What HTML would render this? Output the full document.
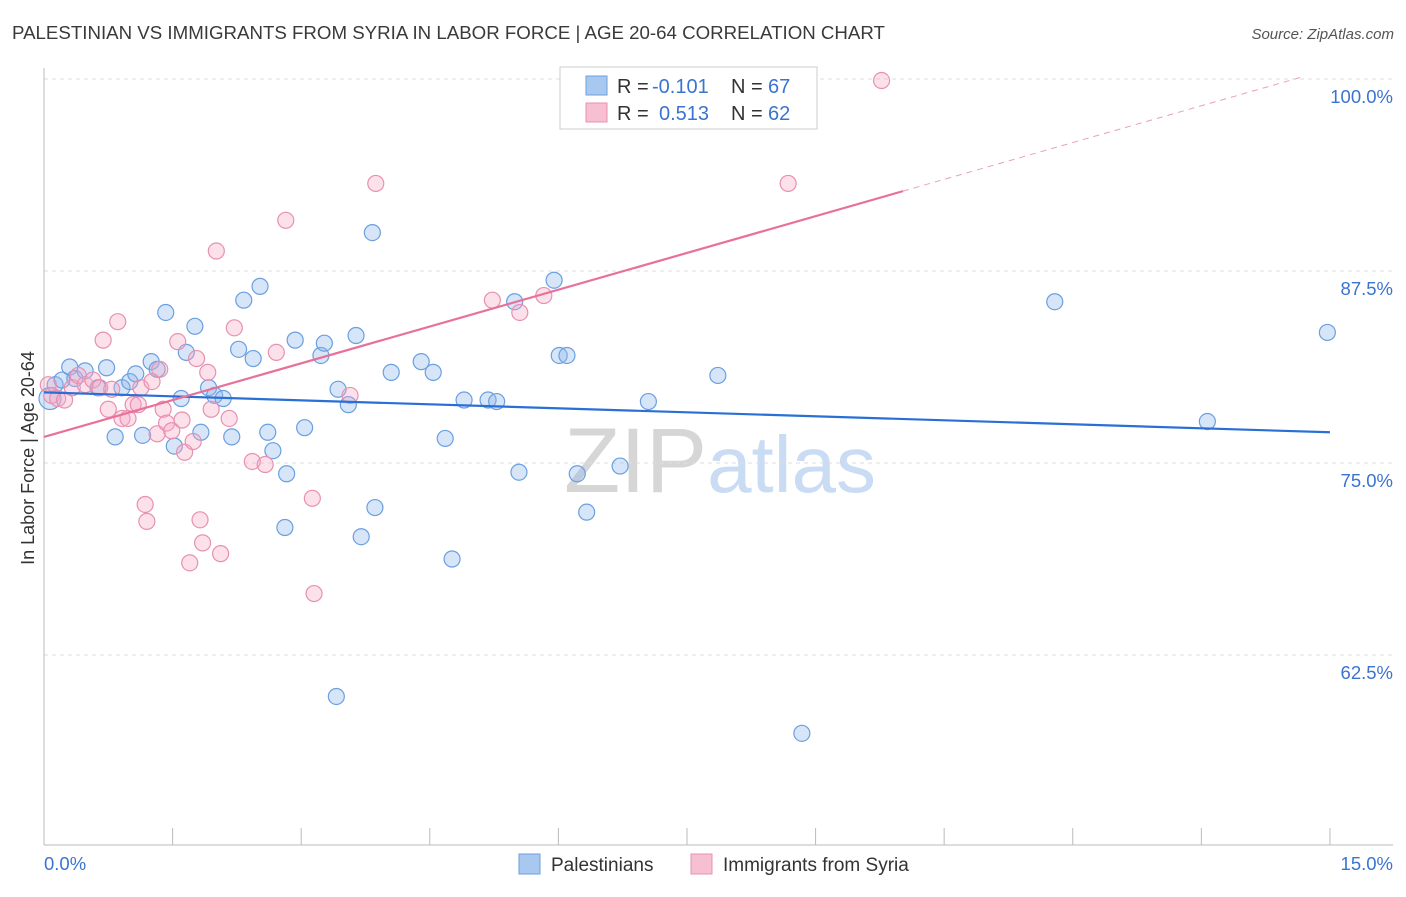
<!DOCTYPE html>
<html><head><meta charset="utf-8">
<style>
body{margin:0;background:#fff;font-family:"Liberation Sans",sans-serif;}
svg text{font-family:"Liberation Sans",sans-serif;}
</style></head>
<body>
<svg id="chart" width="1406" height="892" viewBox="0 0 1406 892" xmlns="http://www.w3.org/2000/svg">
<text x="12" y="39" font-size="18.7" fill="#3a3a3a">PALESTINIAN VS IMMIGRANTS FROM SYRIA IN LABOR FORCE | AGE 20-64 CORRELATION CHART</text>
<text x="1394" y="39" font-size="15" fill="#555" text-anchor="end" font-style="italic">Source: ZipAtlas.com</text>
<text x="720" y="492" font-size="92" text-anchor="middle" font-family="Liberation Serif" fill="#d8d8d8"><tspan fill="#d6d6d6">ZIP</tspan><tspan fill="#c9dcf3" font-family="Liberation Sans" font-size="80">atlas</tspan></text>
<g id="grid"></g>
<g id="axes"></g>
<g id="marks"></g>
<text transform="translate(34,458) rotate(-90)" font-size="18" fill="#333" text-anchor="middle">In Labor Force | Age 20-64</text>
<g>
<rect x="560" y="67" width="257" height="62" fill="#fff" stroke="#ccc"/>
<rect x="586" y="76" width="21" height="19" fill="#a8c8f0" stroke="#6a9fe0"/>
<rect x="586" y="103" width="21" height="19" fill="#f7bfd2" stroke="#e890b0"/>
<text x="617" y="93" font-size="20" fill="#333">R =</text>
<text x="652" y="93" font-size="20" fill="#3a74d0">-0.101</text>
<text x="731" y="93" font-size="20" fill="#333">N =</text>
<text x="768" y="93" font-size="20" fill="#3a74d0">67</text>
<text x="617" y="120" font-size="20" fill="#333">R =</text>
<text x="659" y="120" font-size="20" fill="#3a74d0">0.513</text>
<text x="731" y="120" font-size="20" fill="#333">N =</text>
<text x="768" y="120" font-size="20" fill="#3a74d0">62</text>
</g>
<g>
<rect x="519" y="854" width="21" height="20" fill="#a8c8f0" stroke="#6a9fe0"/>
<text x="551" y="871" font-size="19" fill="#333">Palestinians</text>
<rect x="691" y="854" width="21" height="20" fill="#f7bfd2" stroke="#e890b0"/>
<text x="723" y="871" font-size="19" fill="#333">Immigrants from Syria</text>
</g>
</svg>
<script>
const yTicks=[100,87.5,75,62.5];
const xTickLabels=["0.0%","15.0%"];
const blueX=[.07,.13,.21,.30,.36,.48,.63,.73,.83,.91,1.00,1.07,1.15,1.25,1.32,1.42,1.52,1.60,1.66,1.76,1.83,1.92,1.99,2.09,2.19,2.27,2.33,2.44,2.52,2.61,2.67,2.83,2.81,2.93,3.04,3.23,3.27,3.41,3.43,3.55,3.64,3.70,3.83,3.86,4.05,4.40,4.54,4.68,4.76,4.90,5.18,5.28,5.49,5.54,5.95,6.01,6.10,6.22,6.33,6.72,7.05,7.86,8.84,11.79,13.57,14.97];
const blueY=[79.2,80.1,80.4,81.25,80.5,81.0,79.9,81.2,76.7,79.9,80.3,80.8,76.8,81.6,81.1,84.8,76.1,79.2,82.2,83.9,77.0,79.9,79.4,79.2,76.7,82.4,85.6,81.8,86.5,77.0,75.8,74.3,70.8,83.0,77.3,82.0,82.8,59.8,79.8,78.8,83.3,70.2,90.0,72.1,80.9,81.6,80.9,76.6,68.75,79.1,79.1,79.0,85.5,74.4,86.9,82.0,82.0,74.3,71.8,74.8,79.0,80.7,57.4,85.5,77.7,83.5];
const pinkX=[.05,.09,.16,.24,.33,.40,.48,.57,.65,.69,.75,.79,.86,.91,.98,1.04,1.10,1.13,1.18,1.20,1.26,1.32,1.35,1.39,1.43,1.49,1.56,1.61,1.64,1.70,1.74,1.78,1.82,1.85,1.91,1.95,2.01,2.06,2.16,2.22,2.43,2.58,2.71,2.82,3.13,3.15,3.57,3.87,5.23,5.55,5.83,8.68,9.77];
const pinkY=[80.1,79.4,79.2,79.1,79.9,80.7,80.1,80.4,79.9,83.0,78.5,79.8,84.2,77.9,77.9,78.8,78.8,79.9,72.3,71.2,80.3,76.9,81.1,78.5,77.6,77.1,82.9,77.8,75.7,68.5,76.4,81.8,71.3,69.8,80.9,78.5,88.8,69.1,77.9,83.8,75.1,74.9,82.2,90.8,72.7,66.5,79.4,93.2,85.6,84.8,85.9,93.2,99.9];
const blueTrend=[79.6,77.0];
const pinkTrend=[76.7,92.7];
const pinkTrendEnd=10.02;

const NS="http://www.w3.org/2000/svg";
const X=v=>44+v*85.73;
const Y=v=>79+(100-v)*15.36;
function mk(parent,tag,attrs){const e=document.createElementNS(NS,tag);for(const k in attrs)e.setAttribute(k,attrs[k]);document.getElementById(parent).appendChild(e);return e;}

yTicks.forEach(t=>{
  const g=mk('grid','line',{x1:44,x2:1393,y1:Y(t),y2:Y(t),stroke:'#ddd','stroke-dasharray':'4,4'});
  
  
  const l=mk('axes','text',{x:1393,y:Y(t)+24,'font-size':18.5,fill:'#3a74d0','text-anchor':'end'});
  l.textContent=t.toFixed(1)+'%';
  
  
});
const ax=mk('axes','line',{x1:44,x2:1393,y1:845,y2:845,stroke:'#bbb'});


const ay=mk('axes','line',{x1:44,x2:44,y1:68,y2:845,stroke:'#bbb'});


for(let i=0;i<=10;i++){
  const t=mk('axes','line',{x1:X(i*1.5),x2:X(i*1.5),y1:828,y2:845,stroke:'#bbb'});
  
  
}
[[0,'start',44],[15,'end',1393]].forEach((p,i)=>{
  const t=mk('axes','text',{x:p[2],y:870,'font-size':18.5,fill:'#3a74d0','text-anchor':p[1]});
  t.textContent=xTickLabels[i];
  
  
});

blueX.forEach((v,i)=>{
  const c=mk('marks','circle',{cx:X(v),cy:Y(blueY[i]),r:i===0?11:8,fill:'rgba(140,180,235,0.35)',stroke:'#6a9fe0','stroke-width':1.2});
  
  
});
pinkX.forEach((v,i)=>{
  const c=mk('marks','circle',{cx:X(v),cy:Y(pinkY[i]),r:8,fill:'rgba(245,170,198,0.35)',stroke:'#e890b0','stroke-width':1.2});
  
  
});
const bl=mk('marks','line',{x1:X(0),y1:Y(blueTrend[0]),x2:X(15),y2:Y(blueTrend[1]),stroke:'#2a6fd6','stroke-width':2.2});


const pl=mk('marks','line',{x1:X(0),y1:Y(pinkTrend[0]),x2:X(pinkTrendEnd),y2:Y(pinkTrend[1]),stroke:'#e8719a','stroke-width':2.2});


const slope=(pinkTrend[1]-pinkTrend[0])/pinkTrendEnd;
const xe=Math.min(15,(100.1-pinkTrend[0])/slope);
const pd=mk('marks','line',{x1:X(pinkTrendEnd),y1:Y(pinkTrend[1]),x2:X(xe),y2:Y(pinkTrend[0]+slope*xe),stroke:'#e8a0b8','stroke-width':1,'stroke-dasharray':'6,5'});


</script>
</body></html>
